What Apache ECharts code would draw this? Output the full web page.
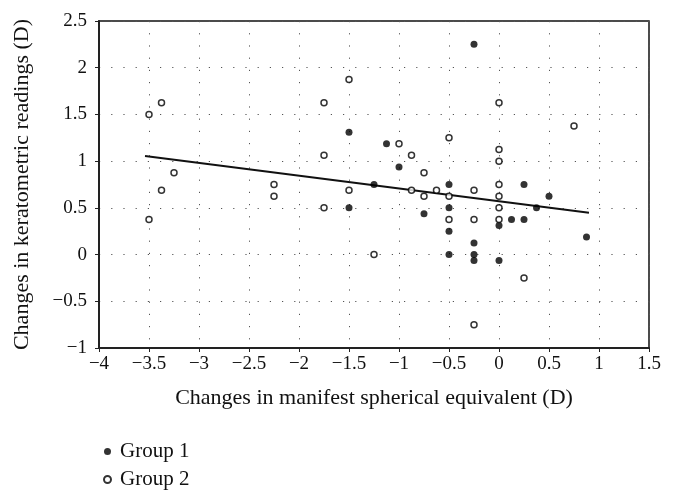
<!DOCTYPE html>
<html><head><meta charset="utf-8">
<script src="https://cdn.jsdelivr.net/npm/echarts@6/dist/echarts.min.js"></script>
<style>html,body{margin:0;padding:0;background:#fff}#c{width:676px;height:500px}</style>
</head><body><div id="c"></div>
<script>
const xTicks = [-4, -3.5, -3, -2.5, -2, -1.5, -1, -0.5, 0, 0.5, 1, 1.5];
const yTicks = [-1, -0.5, 0, 0.5, 1, 1.5, 2, 2.5];
const group1 = [
  [-0.25, 2.25], [-1.5, 1.31], [-1.125, 1.1875], [-1, 0.9375], [-1.25, 0.75],
  [-0.5, 0.75], [0.25, 0.75], [-1.5, 0.5], [-0.75, 0.4375], [-0.5, 0.5],
  [-0.5, 0.25], [-0.25, 0.125], [-0.5, 0], [-0.25, 0], [-0.25, -0.0625],
  [0.5, 0.625], [0.375, 0.5], [0, 0.3125], [0.125, 0.375], [0.25, 0.375],
  [0.875, 0.1875], [0, -0.0625]
];
const group2 = [
  [-3.5, 1.5], [-3.375, 1.625], [-3.25, 0.875], [-3.375, 0.6875], [-2.25, 0.75],
  [-3.5, 0.375], [-2.25, 0.625], [-1.5, 1.875], [-1.75, 1.625], [-1, 1.1875],
  [-0.5, 1.25], [-1.75, 1.0625], [-0.875, 1.0625], [-0.75, 0.875], [-0.25, 0.6875],
  [0, 1.625], [0.75, 1.375], [0, 1.125], [0, 1.0], [0, 0.75], [-1.5, 0.6875],
  [-0.875, 0.6875], [-0.75, 0.625], [-0.625, 0.6875], [-0.5, 0.625], [-1.75, 0.5],
  [-0.5, 0.375], [-0.25, 0.375], [-1.25, 0], [-0.25, -0.75], [0, 0.625],
  [0, 0.5], [0, 0.375], [0.25, -0.25]
];
const fitLine = [[-3.54, 1.055], [0.9, 0.448]];

const FONT = '"Liberation Serif", "DejaVu Serif", serif';
const chart = echarts.init(document.getElementById('c'), null, {renderer: 'canvas'});
const gridLine = {show: true, lineStyle: {color: '#555', width: 1, type: [1.2, 11]}};
const fmt = v => (v < 0 ? '\u2212' + Math.abs(v) : String(v));
chart.setOption({
  animation: false,
  backgroundColor: '#fff',
  textStyle: {fontFamily: FONT},
  grid: {left: 99, right: 27, top: 21, bottom: 152, show: true, borderColor: '#111', borderWidth: 1.5, backgroundColor: 'transparent'},
  xAxis: {
    type: 'value', min: xTicks[0], max: xTicks[xTicks.length - 1], interval: 0.5,
    name: 'Changes in manifest spherical equivalent (D)', nameLocation: 'middle', nameGap: 39,
    nameTextStyle: {fontFamily: FONT, fontSize: 22, color: '#111'},
    axisLine: {show: true, onZero: false, lineStyle: {color: '#222', width: 2}},
    axisTick: {show: true, length: 4, lineStyle: {color: '#222', width: 1}},
    axisLabel: {fontFamily: FONT, fontSize: 19, color: '#111', margin: 7, formatter: fmt},
    splitLine: gridLine
  },
  yAxis: {
    type: 'value', min: yTicks[0], max: yTicks[yTicks.length - 1], interval: 0.5,
    name: 'Changes in keratometric readings (D)', nameLocation: 'middle', nameGap: 66,
    nameTextStyle: {fontFamily: FONT, fontSize: 22, color: '#111'},
    axisLine: {show: true, onZero: false, lineStyle: {color: '#222', width: 2}},
    axisTick: {show: true, length: 4, lineStyle: {color: '#222', width: 1}},
    axisLabel: {fontFamily: FONT, fontSize: 19, color: '#111', margin: 12, formatter: fmt},
    splitLine: gridLine
  },
  legend: {
    orient: 'vertical', left: 98, top: 436, itemGap: 7, itemWidth: 7, itemHeight: 7,
    textStyle: {fontFamily: FONT, fontSize: 21, color: '#111', padding: [0, 0, 0, 4]},
    data: [{name: 'Group 1', icon: 'circle'}, {name: 'Group 2', icon: 'circle'}]
  },
  series: [
    {name: 'Fit', type: 'line', data: fitLine, symbol: 'none', silent: true,
      lineStyle: {color: '#111', width: 2}, z: 1},
    {name: 'Group 1', type: 'scatter', data: group1, symbol: 'circle', symbolSize: 7,
      itemStyle: {color: '#000'}, z: 3},
    {name: 'Group 2', type: 'scatter', data: group2, symbol: 'circle', symbolSize: 6,
      itemStyle: {color: '#fff', borderColor: '#000', borderWidth: 1.5}, z: 3}
  ]
});
</script></body></html>
